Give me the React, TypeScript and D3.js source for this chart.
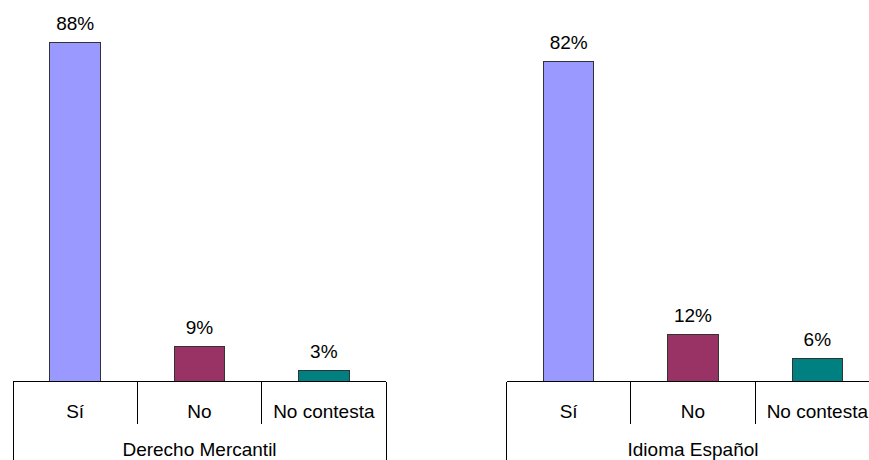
import React from "react";
import * as d3 from "d3";

const categories = ["Sí", "No", "No contesta"];
const groups = ["Derecho Mercantil", "Idioma Español"];
const valuesMercantil = [88, 9, 3];
const valuesEspanol = [82, 12, 6];
const labelsMercantil = ["88%", "9%", "3%"];
const labelsEspanol = ["82%", "12%", "6%"];
const colors = ["#9999FF", "#993366", "#008080"];

const W = 869;
const H = 460;
const AXIS_Y = 381.7;
const CAT_BOTTOM = 424;
const FONT = "'Liberation Sans', Arial, sans-serif";
const FS = 19;

type PanelProps = {
  x0: number;
  bandTotal: number;
  plotH: number;
  values: number[];
  labels: string[];
  group: string;
};

function Panel({ x0, bandTotal, plotH, values, labels, group }: PanelProps) {
  const x = d3.scaleBand<string>().domain(categories).range([x0, x0 + bandTotal]).padding(0);
  const y = d3.scaleLinear().domain([0, 100]).range([AXIS_Y, AXIS_Y - plotH]);
  const bw = x.bandwidth() * 0.405;
  const edges = categories.map((c) => x(c) as number).concat([x0 + bandTotal]);
  return (
    <g>
      {categories.map((c, i) => {
        const cx = (x(c) as number) + x.bandwidth() / 2;
        const top = y(values[i]);
        return (
          <g key={c}>
            <rect
              x={cx - bw / 2}
              y={top}
              width={bw}
              height={AXIS_Y - top}
              fill={colors[i]}
              stroke="#333"
              strokeWidth={1}
            />
            <text x={cx} y={top - 12.5} textAnchor="middle" fontFamily={FONT} fontSize={FS} fill="#000">
              {labels[i]}
            </text>
            <text x={cx} y={418} textAnchor="middle" fontFamily={FONT} fontSize={FS} fill="#000">
              {c}
            </text>
          </g>
        );
      })}
      <line x1={x0} x2={x0 + bandTotal} y1={AXIS_Y} y2={AXIS_Y} stroke="#000" strokeWidth={1} />
      {edges.map((e, i) => {
        const outer = i === 0 || i === edges.length - 1;
        return (
          <line
            key={i}
            x1={e}
            x2={e}
            y1={AXIS_Y}
            y2={outer ? H : CAT_BOTTOM}
            stroke="#000"
            strokeWidth={1}
          />
        );
      })}
      <text
        x={x0 + bandTotal / 2}
        y={456}
        textAnchor="middle"
        fontFamily={FONT}
        fontSize={FS}
        fill="#000"
      >
        {group}
      </text>
    </g>
  );
}

export default function App() {
  return (
    <svg
      width={W}
      height={H}
      style={{ position: "absolute", left: 0, top: 0, background: "#fff" }}
      shapeRendering="crispEdges"
    >
      <rect width={W} height={H} fill="#fff" />
      <Panel x0={13} bandTotal={373} plotH={386} values={valuesMercantil} labels={labelsMercantil} group={groups[0]} />
      <Panel x0={506.5} bandTotal={373} plotH={391} values={valuesEspanol} labels={labelsEspanol} group={groups[1]} />
    </svg>
  );
}
